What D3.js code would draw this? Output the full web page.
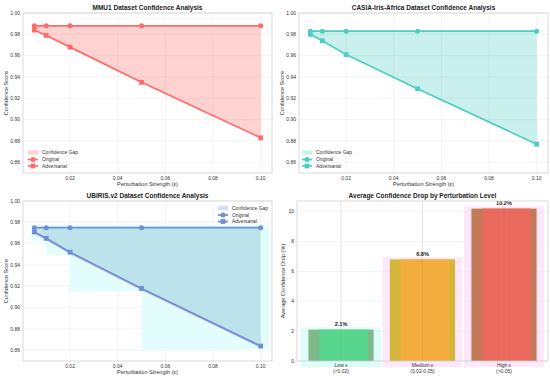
<!DOCTYPE html>
<html lang="en">
<head>
<meta charset="UTF-8">
<title>Confidence Analysis</title>
<script src="https://d3js.org/d3.v7.min.js"></script>
<style>
  body { margin: 0; background: #fff; }
  text { font-family: "Liberation Sans", Arial, sans-serif; fill: #333; }
</style>
</head>
<body>
<div id="chart"></div>
<script>

// ---- data ----
var epsilons = [0.005, 0.01, 0.02, 0.05, 0.10];

var mmu1Original = [0.988, 0.988, 0.988, 0.988, 0.988];
var mmu1Adversarial = [0.984, 0.979, 0.968, 0.935, 0.883];

var casiaOriginal = [0.983, 0.983, 0.983, 0.983, 0.983];
var casiaAdversarial = [0.980, 0.974, 0.961, 0.929, 0.877];

var ubirisOriginal = [0.975, 0.975, 0.975, 0.975, 0.975];
var ubirisAdversarial = [0.971, 0.965, 0.952, 0.918, 0.864];

var xTicks = [0.02, 0.04, 0.06, 0.08, 0.10];
var yTicks = [0.86, 0.88, 0.90, 0.92, 0.94, 0.96, 0.98, 1.00];

var levelNames = ["Low ε", "Medium ε", "High ε"];
var levelRanges = ["(<0.02)", "(0.02-0.05)", "(>0.05)"];
var avgDrop = [2.1, 6.8, 10.2];
var barTicks = [0, 2, 4, 6, 8, 10];

var W = 550, H = 379;
var svg = d3.select("#chart").append("svg")
    .attr("width", W).attr("height", H);

// axes grid styling
var gridColor = "#ebebeb", spineColor = "#d0d0d0";

function drawLinePanel(box, title, orig, adv, color, gapColor, legendAt, glow) {
  var x = d3.scaleLinear().domain([0.00025, 0.10475]).range([box.left, box.right]);
  var y = d3.scaleLinear().domain([0.85, 1.0]).range([box.bottom, box.top]);
  var g = svg.append("g");

  // grid
  g.selectAll(".gx").data(xTicks).enter().append("line")
    .attr("x1", d => x(d)).attr("x2", d => x(d))
    .attr("y1", box.top).attr("y2", box.bottom)
    .style("stroke", gridColor).style("stroke-width", 0.6);
  g.selectAll(".gy").data(yTicks).enter().append("line")
    .attr("x1", box.left).attr("x2", box.right)
    .attr("y1", d => y(d)).attr("y2", d => y(d))
    .style("stroke", gridColor).style("stroke-width", 0.6);

  var pts = epsilons.map((e, i) => ({e: e, o: orig[i], a: adv[i]}));

  // cyan glow behind the gap (only for one panel)
  if (glow) {
    var pad = 3;
    for (var i = 0; i < pts.length - 1; i++) {
      var p0 = pts[i], p1 = pts[i + 1];
      var top = y(Math.max(p0.o, p1.o)) - pad;
      var bot = y(Math.min(p0.a, p1.a)) + pad;
      var x0 = x(p0.e) - (i === 0 ? pad : 0);
      var x1 = x(p1.e) + (i === pts.length - 2 ? 3 * pad : 0);
      g.append("rect")
        .attr("x", x0).attr("y", top)
        .attr("width", x1 - x0).attr("height", bot - top)
        .style("fill", "#e3fdfd");
    }
  }

  // confidence gap
  var area = d3.area().x(d => x(d.e)).y0(d => y(d.a)).y1(d => y(d.o));
  g.append("path").datum(pts).attr("d", area)
    .style("fill", gapColor).style("fill-opacity", 0.3);

  var lineO = d3.line().x(d => x(d.e)).y(d => y(d.o));
  var lineA = d3.line().x(d => x(d.e)).y(d => y(d.a));

  if (glow) {
    g.append("path").datum(pts).attr("d", lineA)
      .attr("transform", "translate(0,0.9)")
      .style("fill", "none").style("stroke", "#b48ccc")
      .style("stroke-width", 1.5).style("opacity", 0.6);
  }

  g.append("path").datum(pts).attr("d", lineO)
    .style("fill", "none").style("stroke", color).style("stroke-width", 1.7);
  g.selectAll(".mo").data(pts).enter().append("circle")
    .attr("cx", d => x(d.e)).attr("cy", d => y(d.o)).attr("r", 2.5)
    .style("fill", color);

  g.append("path").datum(pts).attr("d", lineA)
    .style("fill", "none").style("stroke", color).style("stroke-width", 1.7);
  g.selectAll(".ma").data(pts).enter().append("rect")
    .attr("x", d => x(d.e) - 2.4).attr("y", d => y(d.a) - 2.4)
    .attr("width", 4.8).attr("height", 4.8)
    .style("fill", color);

  // frame
  g.append("rect")
    .attr("x", box.left).attr("y", box.top)
    .attr("width", box.right - box.left).attr("height", box.bottom - box.top)
    .style("fill", "none").style("stroke", spineColor).style("stroke-width", 0.8);

  // tick labels
  g.selectAll(".tx").data(xTicks).enter().append("text")
    .attr("x", d => x(d)).attr("y", box.bottom + 6.5)
    .attr("text-anchor", "middle").style("font-size", "5px")
    .text(d => d.toFixed(2));
  g.selectAll(".ty").data(yTicks).enter().append("text")
    .attr("x", box.left - 3).attr("y", d => y(d) + 1.8)
    .attr("text-anchor", "end").style("font-size", "5px")
    .text(d => d.toFixed(2));

  // titles
  g.append("text")
    .attr("x", (box.left + box.right) / 2).attr("y", box.top - 3)
    .attr("text-anchor", "middle")
    .style("font-size", "6.5px").style("font-weight", "bold").style("fill", "#222")
    .text(title);
  g.append("text")
    .attr("x", (box.left + box.right) / 2).attr("y", box.bottom + 12.5)
    .attr("text-anchor", "middle").style("font-size", "5.6px")
    .text("Perturbation Strength (ε)");
  g.append("text")
    .attr("transform", "translate(" + (box.left - 15.5) + "," + ((box.top + box.bottom) / 2) + ") rotate(-90)")
    .attr("text-anchor", "middle").style("font-size", "5.6px")
    .text("Confidence Score");

  // legend
  var lg = g.append("g").attr("transform", "translate(" + legendAt[0] + "," + legendAt[1] + ")");
  lg.append("rect").attr("x", 0).attr("y", -2.2).attr("width", 10).attr("height", 4.4)
    .style("fill", color).style("fill-opacity", 0.3);
  lg.append("line").attr("x1", 0).attr("x2", 10).attr("y1", 7).attr("y2", 7)
    .style("stroke", color).style("stroke-width", 1.7);
  lg.append("circle").attr("cx", 5).attr("cy", 7).attr("r", 2.5).style("fill", color);
  lg.append("line").attr("x1", 0).attr("x2", 10).attr("y1", 13.5).attr("y2", 13.5)
    .style("stroke", color).style("stroke-width", 1.7);
  lg.append("rect").attr("x", 2.6).attr("y", 11.1).attr("width", 4.8).attr("height", 4.8)
    .style("fill", color);
  ["Confidence Gap", "Original", "Adversarial"].forEach(function(t, i) {
    lg.append("text").attr("x", 14).attr("y", [0, 7, 13.5][i] + 1.8)
      .style("font-size", "5px").text(t);
  });
}

drawLinePanel({left: 23, right: 272, top: 13, bottom: 173},
  "MMU1 Dataset Confidence Analysis", mmu1Original, mmu1Adversarial,
  "#ff6b6b", "#ff6b6b", [28, 152.5], false);
drawLinePanel({left: 299, right: 548, top: 13, bottom: 173},
  "CASIA-Iris-Africa Dataset Confidence Analysis", casiaOriginal, casiaAdversarial,
  "#4ecdc4", "#4ecdc4", [302, 152.5], false);
drawLinePanel({left: 23, right: 272, top: 201, bottom: 361},
  "UBIRIS.v2 Dataset Confidence Analysis", ubirisOriginal, ubirisAdversarial,
  "#6f8fd2", "#64aac8", [218, 208], true);

// ---- bar panel ----
(function() {
  var box = {left: 297, right: 548, top: 201, bottom: 361};
  var idx = d3.range(avgDrop.length);
  var x = d3.scaleLinear().domain([-0.54, 2.54]).range([box.left, box.right]);
  var y = d3.scaleLinear().domain([0, 10.71]).range([box.bottom, box.top]);
  var g = svg.append("g");

  var mainColors = ["#58d68d", "#f2ad3e", "#ea6a5e"];
  var edgeColors = ["#7fb98a", "#d4b53a", "#c27a58"];
  var glowColors = ["#ddfdfb", "#fde8fb", "#fde8fb"];

  // glow boxes
  g.selectAll(".glow").data(idx).enter().append("rect")
    .attr("x", i => x(i - 0.49)).attr("width", i => x(0.98) - x(0))
    .attr("y", i => y(avgDrop[i] + 0.15))
    .attr("height", i => y(-0.4) - y(avgDrop[i] + 0.15))
    .style("fill", i => glowColors[i]);

  // grid
  g.selectAll(".gx").data(idx).enter().append("line")
    .attr("x1", i => x(i)).attr("x2", i => x(i))
    .attr("y1", box.top).attr("y2", box.bottom)
    .style("stroke", "#d6d6d6").style("stroke-width", 0.7);
  g.selectAll(".gy").data(barTicks).enter().append("line")
    .attr("x1", box.left).attr("x2", box.right)
    .attr("y1", d => y(d)).attr("y2", d => y(d))
    .style("stroke", gridColor).style("stroke-width", 0.6);

  // bars: outer darker edge, inner bright body
  g.selectAll(".outer").data(idx).enter().append("rect")
    .attr("x", i => x(i - 0.4)).attr("width", x(0.8) - x(0))
    .attr("y", i => y(avgDrop[i])).attr("height", i => y(0) - y(avgDrop[i]))
    .style("fill", i => edgeColors[i]);
  g.selectAll(".inner").data(idx).enter().append("rect")
    .attr("x", i => x(i - 0.265)).attr("width", x(0.595) - x(0))
    .attr("y", i => y(avgDrop[i])).attr("height", i => y(0) - y(avgDrop[i]))
    .style("fill", i => mainColors[i]);
  g.selectAll(".cl").data(idx).enter().append("line")
    .attr("x1", i => x(i)).attr("x2", i => x(i))
    .attr("y1", i => y(avgDrop[i])).attr("y2", box.bottom)
    .style("stroke", "#000").style("stroke-opacity", 0.06).style("stroke-width", 0.7);

  // value labels
  g.selectAll(".vl").data(idx).enter().append("text")
    .attr("x", i => x(i)).attr("y", i => y(avgDrop[i]) - 3.5)
    .attr("text-anchor", "middle")
    .style("font-size", "5.6px").style("font-weight", "bold").style("fill", "#222")
    .text(i => avgDrop[i].toFixed(1) + "%");

  g.append("rect")
    .attr("x", box.left).attr("y", box.top)
    .attr("width", box.right - box.left).attr("height", box.bottom - box.top)
    .style("fill", "none").style("stroke", spineColor).style("stroke-width", 0.8);

  g.selectAll(".tx1").data(idx).enter().append("text")
    .attr("x", i => x(i)).attr("y", box.bottom + 5.5)
    .attr("text-anchor", "middle").style("font-size", "5px")
    .text(i => levelNames[i]);
  g.selectAll(".tx2").data(idx).enter().append("text")
    .attr("x", i => x(i)).attr("y", box.bottom + 11.5)
    .attr("text-anchor", "middle").style("font-size", "5px")
    .text(i => levelRanges[i]);
  g.selectAll(".ty").data(barTicks).enter().append("text")
    .attr("x", box.left - 3).attr("y", d => y(d) + 1.8)
    .attr("text-anchor", "end").style("font-size", "5px")
    .text(d => d);

  g.append("text")
    .attr("x", (box.left + box.right) / 2).attr("y", box.top - 3)
    .attr("text-anchor", "middle")
    .style("font-size", "6.5px").style("font-weight", "bold").style("fill", "#222")
    .text("Average Confidence Drop by Perturbation Level");
  g.append("text")
    .attr("transform", "translate(" + (box.left - 12) + "," + ((box.top + box.bottom) / 2) + ") rotate(-90)")
    .attr("text-anchor", "middle").style("font-size", "5.6px")
    .text("Average Confidence Drop (%)");
})();

</script>
</body>
</html>
